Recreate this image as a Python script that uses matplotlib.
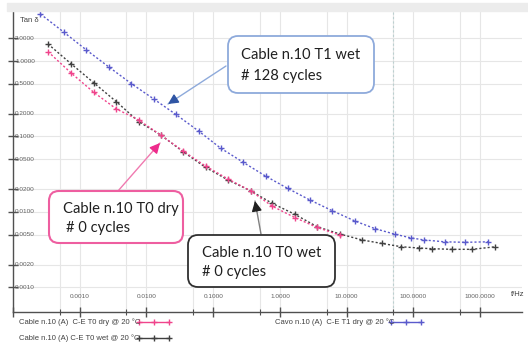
import numpy as np
import matplotlib.pyplot as plt
from matplotlib.patches import FancyBboxPatch, Rectangle
from matplotlib.lines import Line2D
from matplotlib.transforms import Affine2D

# frequenze (Hz) e tan delta
f_t1 = [0.000258, 0.000582, 0.00126, 0.00275, 0.00596, 0.0129, 0.0275, 0.0603,
        0.129, 0.282, 0.608, 1.30, 2.81, 6.07, 13.3, 26.3, 52.5, 93.3, 145,
        295, 589, 1318]
tan_t1 = [4.2, 2.40, 1.40, 0.83, 0.50, 0.313, 0.196, 0.118, 0.070, 0.0453,
          0.0298, 0.0205, 0.01435, 0.01035, 0.00755, 0.0060, 0.00505, 0.0045,
          0.00423, 0.0040, 0.00394, 0.0040]

f_t0 = [0.000335, 0.000752, 0.00162, 0.00355, 0.00767, 0.0164, 0.0354, 0.0767,
        0.167, 0.363, 0.764, 1.67, 3.61, 7.91, 17.1, 33.9, 66.1, 120, 191,
        380, 759, 1698]
tan_t0_wet = [1.68, 0.91, 0.515, 0.288, 0.157, 0.1044, 0.0627, 0.0389, 0.0264,
              0.019, 0.01297, 0.00927, 0.00634, 0.00508, 0.00423, 0.0038,
              0.00344, 0.00331, 0.00324, 0.00318, 0.00318, 0.00344]
tan_t0_dry = [1.33, 0.687, 0.385, 0.231, 0.165, 0.104, 0.064, 0.0405, 0.0272,
              0.019, 0.0119, 0.0084, 0.0062, 0.0049]

lab_dry = 'Cable n.10 (A)  C-E T0 dry @ 20 °C'
lab_wet = 'Cable n.10 (A) C-E T0 wet @ 20 °C'
lab_t1 = 'Cavo n.10 (A)  C-E T1 dry @ 20 °C'

c_pink = '#f0448c'
c_black = '#404040'
c_blue = '#5a5acc'

y_ticks = [0.001, 0.002, 0.005, 0.01, 0.02, 0.05, 0.1, 0.2, 0.5, 1.0, 2.0]
x_major = [1e-4, 1e-3, 1e-2, 1e-1, 1, 10, 100, 1000]
x_minor = [5e-4, 5e-3, 5e-2, 0.5, 5, 50, 500]
x_labels = ['0.0010', '0.0100', '0.1000', '1.0000', '10.0000', '100.0000', '1000.0000']

small = ['Liberation Sans Narrow', 'Liberation Sans', 'DejaVu Sans']
big = ['Lato', 'DejaVu Sans']

W, H = 528, 346
fig = plt.figure(figsize=(W / 100, H / 100), dpi=100)
pix = Affine2D().scale(1 / W, -1 / H).translate(0, 1) + fig.transFigure

# banda grigia in alto
fig.patches.append(Rectangle((7, 3), 521, 8, transform=pix, color='#ececec', zorder=0))

ax = fig.add_axes([13 / W, 1 - 312 / H, (522 - 13) / W, (312 - 10) / H])
ax.set_xscale('log')
ax.set_yscale('log')
ax.set_xlim(1e-4, 4240)
ax.set_ylim(4.69e-4, 4.75)

for s in ['top', 'right']:
    ax.spines[s].set_visible(False)
for s in ['left', 'bottom']:
    ax.spines[s].set_color('#505050')
    ax.spines[s].set_linewidth(1)

ax.set_xticks(x_major)
ax.set_xticks(x_minor, minor=True)
ax.set_yticks(y_ticks)
ax.set_yticks([], minor=True)
ax.set_xticklabels([])
ax.set_xticklabels([], minor=True)
ax.set_yticklabels([])
ax.tick_params(axis='both', which='major', direction='inout', length=7, width=1, color='#505050')
ax.tick_params(axis='x', which='minor', direction='inout', length=5, width=0.8, color='#505050')

for v in x_major + x_minor:
    ax.axvline(v, color='#e6e6e6', lw=0.8, zorder=0)
for v in y_ticks:
    ax.axhline(v, color='#e6e6e6', lw=0.8, zorder=0)
ax.axvline(50, color='#bcd0d0', lw=0.8, ls=(0, (2, 2)), zorder=0.5)

# etichette dentro il grafico
ytr = ax.get_yaxis_transform()
for v in y_ticks:
    ax.text(0.004, v, '%.4f' % v, transform=ytr, fontsize=4.6, family=small,
            color='#606060', va='center', ha='left')
xtr = ax.get_xaxis_transform()
for v, t in zip(x_major[1:], x_labels):
    ax.text(v, 0.05, t, transform=xtr, fontsize=4.6, family=small,
            color='#606060', va='center', ha='center')
fig.text(20, 20, 'Tan δ', transform=pix, fontsize=5.5, family=small, color='#404040', va='center')
fig.text(511, 294, 'f/Hz', transform=pix, fontsize=5.5, family=small, color='#404040', va='center')

ax.plot(f_t1, tan_t1, ls=(0, (1.5, 1.5)), lw=1, color=c_blue, marker='+', ms=5, mew=1)
ax.plot(f_t0, tan_t0_wet, ls=(0, (1.5, 1.5)), lw=1, color=c_black, marker='+', ms=5, mew=1)
ax.plot(f_t0[:len(tan_t0_dry)], tan_t0_dry, ls=(0, (1.5, 1.5)), lw=1, color=c_pink,
        marker='+', ms=5, mew=1)

# legenda in basso
for (x0, y0, lab, col) in [(19, 322, lab_dry, c_pink), (19, 338, lab_wet, c_black),
                           (275, 322, lab_t1, c_blue)]:
    fig.text(x0, y0, lab, transform=pix, fontsize=5.5, family=small, color='#404040', va='center')
    hx = x0 + 120 if x0 < 100 else x0 + 116
    fig.lines.append(Line2D([hx, hx + 15, hx + 30], [y0, y0, y0], transform=pix, color=col,
                            lw=1, marker='+', ms=4.5, mew=1))

# riquadri
boxes = [((228, 36, 146, 57), '#8eaadb', 1.3, [(241, 55, 'Cable n.10 T1 wet'), (241, 76, '# 128 cycles')]),
         ((49, 191, 134, 52), '#ee5ea0', 1.5, [(63, 209, 'Cable n.10 T0 dry'), (66, 228, '# 0 cycles')]),
         ((188, 235, 147, 52), '#303030', 1.3, [(202, 253, 'Cable n.10 T0 wet'), (202, 272, '# 0 cycles')])]
for (bx, by, bw, bh), ec, lw, lines in boxes:
    fig.patches.append(FancyBboxPatch((bx, by), bw, bh, boxstyle='round,pad=0,rounding_size=10',
                                      transform=pix, fc='white', ec=ec, lw=lw, zorder=5))
    for tx, ty, t in lines:
        fig.text(tx, ty, t, transform=pix, fontsize=10.6, family=big, color='#202020',
                 va='center', ha='left', zorder=6)

arrows = [((226, 66), (168, 104), '#8eaadb', '#2f55a4'),
          ((118, 191), (160, 143), '#f07ab0', '#ee2c8c'),
          ((261, 234), (255, 201), '#808080', '#202020')]
for start, tip, lc, hc in arrows:
    ax.annotate('', xy=tip, xytext=start, xycoords=pix, textcoords=pix,
                arrowprops=dict(arrowstyle='-', color=lc, lw=1, shrinkA=0, shrinkB=0))
    dx, dy = tip[0] - start[0], tip[1] - start[1]
    n = np.hypot(dx, dy)
    back = (tip[0] - dx / n * 10, tip[1] - dy / n * 10)
    ax.annotate('', xy=tip, xytext=back, xycoords=pix, textcoords=pix,
                arrowprops=dict(arrowstyle='-|>,head_length=0.6,head_width=0.3', color=hc,
                                lw=1, shrinkA=0, shrinkB=0))

fig.savefig('out.png', dpi=100, facecolor='white')
